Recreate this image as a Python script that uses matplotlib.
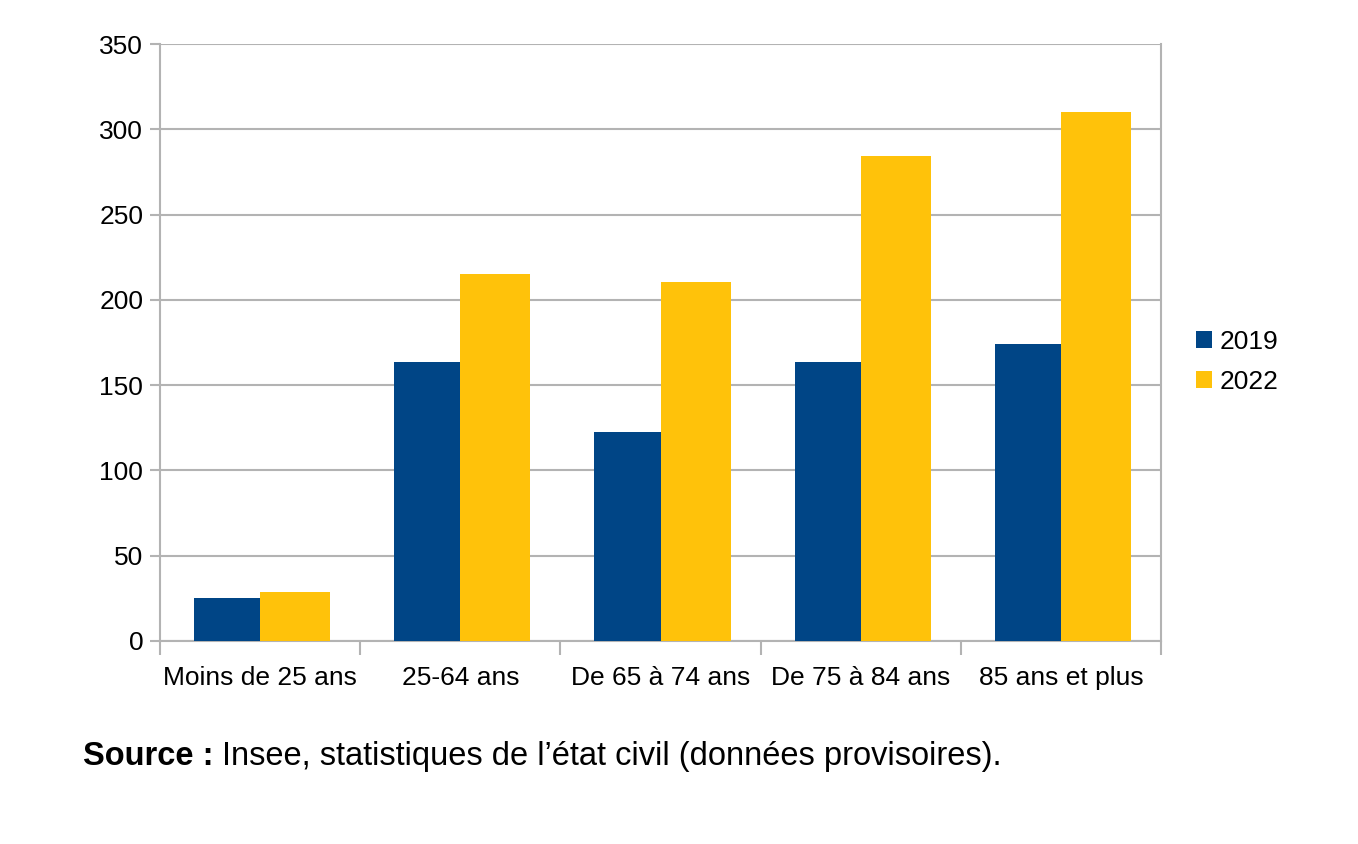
import matplotlib.pyplot as plt
import numpy as np

plt.rcParams['font.family'] = ['Liberation Sans', 'DejaVu Sans']

# Data
categories = ['Moins de 25 ans', '25-64 ans', 'De 65 à 74 ans', 'De 75 à 84 ans', '85 ans et plus']
values_2019 = [25.4, 163.6, 122.5, 163.6, 174.1]
values_2022 = [28.7, 215.2, 210.7, 284.4, 310.2]
series_labels = ['2019', '2022']
yticks = [0, 50, 100, 150, 200, 250, 300, 350]

color_2019 = '#004586'
color_2022 = '#ffc20a'
grid_color = '#b3b3b3'

fig = plt.figure(figsize=(13.58, 8.44), dpi=100)
ax = fig.add_axes([160 / 1358, 1 - 641 / 844, (1161 - 160) / 1358, (641 - 44) / 844])

x = np.arange(len(categories))
ax.bar(x, values_2019, -0.33, align='edge', color=color_2019, label=series_labels[0], zorder=3)
ax.bar(x, values_2022, 0.35, align='edge', color=color_2022, label=series_labels[1], zorder=3)

ax.set_xlim(-0.5, len(categories) - 0.5)
ax.set_ylim(0, 350)
ax.set_yticks(yticks)
ax.yaxis.grid(True, color=grid_color, linewidth=1.5, zorder=0)

ax.set_xticks(x)
ax.set_xticklabels(categories, fontsize=19)
ax.set_xticks(np.arange(-0.5, len(categories)), minor=True)
ax.tick_params(axis='x', which='major', length=0, pad=18)
ax.tick_params(axis='x', which='minor', length=10, width=1.5, color=grid_color)
ax.tick_params(axis='y', length=7, width=1.5, color=grid_color, labelsize=19, pad=5)

for side in ['left', 'right', 'bottom']:
    ax.spines[side].set_color(grid_color)
    ax.spines[side].set_linewidth(1.5)
ax.spines['top'].set_visible(False)

handles, labels = ax.get_legend_handles_labels()
fig.legend(handles, labels, loc='center left', bbox_to_anchor=(1172 / 1358, 1 - 362 / 844),
           frameon=False, fontsize=19, handlelength=0.6, handleheight=0.6,
           handletextpad=0.3, labelspacing=0.6)

# Source line: bold prefix, then regular text right after it
t = fig.text(83 / 1358, 1 - 765 / 844, 'Source :', fontsize=23.5, fontweight='bold', va='baseline')
fig.canvas.draw()
bb = t.get_window_extent()
fig.text((bb.x1 + 8) / 1358, 1 - 765 / 844,
         'Insee, statistiques de l\u2019état civil (données provisoires).',
         fontsize=23.5, va='baseline')

fig.savefig('out.png', dpi=100, facecolor='white')
